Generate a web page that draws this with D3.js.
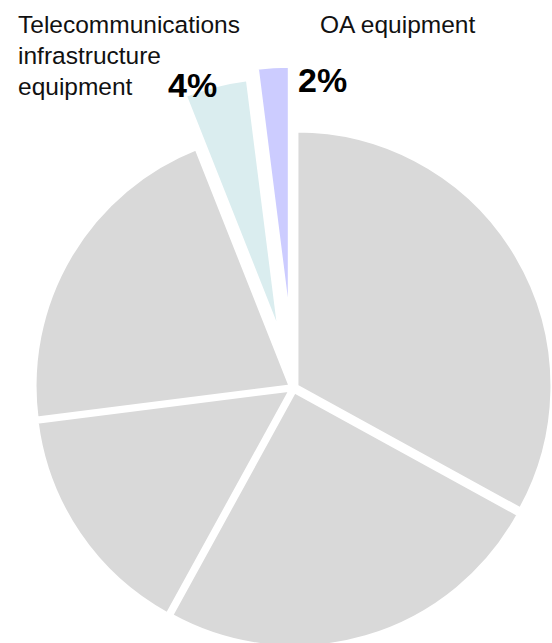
<!DOCTYPE html>
<html>
<head>
    <title>Pie chart</title>
    <style>
        body {
            margin: 0;
            background-color: #ffffff;
        }
        svg {
            display: block;
            font-family: "Liberation Sans", Arial, sans-serif;
        }
        .slice {
            stroke: #ffffff;
            stroke-width: 3px;
            stroke-linejoin: miter;
        }
        .cat-label {
            font-size: 24.5px;
            fill: #111;
        }
        .pct-label {
            font-size: 34px;
            font-weight: bold;
            fill: #000;
        }
    </style>
</head>
<body>
    <div id="chart"></div>

    <script src="https://cdnjs.cloudflare.com/ajax/libs/d3/7.8.5/d3.min.js"></script>
    <script>
        // Slice order runs clockwise from 12 o'clock
        const categories = ["Segment A", "Segment B", "Segment C", "Segment D",
                            "Telecommunications infrastructure equipment", "OA equipment"];
        const shares = [33, 25, 15, 21, 4, 2];
        const colors = ["#d9d9d9", "#d9d9d9", "#d9d9d9", "#d9d9d9", "#daedef", "#ccccff"];
        const labelled = [false, false, false, false, true, true];

        const width = 552;
        const height = 643;
        const radius = 255;
        const cx = 293.5, cy = 388;

        // how far each slice is pulled out of the pie, px
        const explode = [4, 4, 4, 4, 57, 67];

        // where the text labels sit
        const catLayout = {
            4: { x: 18, y: 33, lines: ["Telecommunications", "infrastructure", "equipment"], lh: 31 },
            5: { x: 320, y: 33, lines: ["OA equipment"], lh: 31 }
        };
        const pctLayout = {
            4: { x: 168, y: 97 },
            5: { x: 298, y: 92 }
        };

        const svg = d3.select("#chart")
            .append("svg")
            .attr("width", width)
            .attr("height", height);

        const pie = d3.pie()
            .sort(null)
            .value(d => d)
            .startAngle(0)
            .endAngle(2 * Math.PI);

        const arc = d3.arc()
            .innerRadius(0)
            .outerRadius(radius);

        const arcs = pie(shares);

        const g = svg.append("g")
            .attr("transform", `translate(${cx},${cy})`);

        g.selectAll(".slice")
            .data(arcs)
            .enter()
            .append("path")
            .attr("class", "slice")
            .attr("fill", (d, i) => colors[i])
            .attr("transform", (d, i) => {
                const mid = (d.startAngle + d.endAngle) / 2;
                const e = explode[i];
                return `translate(${Math.sin(mid) * e},${-Math.cos(mid) * e})`;
            })
            .attr("d", arc);

        // category names
        categories.forEach((name, i) => {
            if (!labelled[i]) return;
            const lay = catLayout[i];
            const t = svg.append("text")
                .attr("class", "cat-label")
                .attr("x", lay.x)
                .attr("y", lay.y);
            lay.lines.forEach((line, k) => {
                t.append("tspan")
                    .attr("x", lay.x)
                    .attr("y", lay.y + k * lay.lh)
                    .text(line);
            });

            svg.append("text")
                .attr("class", "pct-label")
                .attr("x", pctLayout[i].x)
                .attr("y", pctLayout[i].y)
                .text(shares[i] + "%");
        });
    </script>
</body>
</html>
